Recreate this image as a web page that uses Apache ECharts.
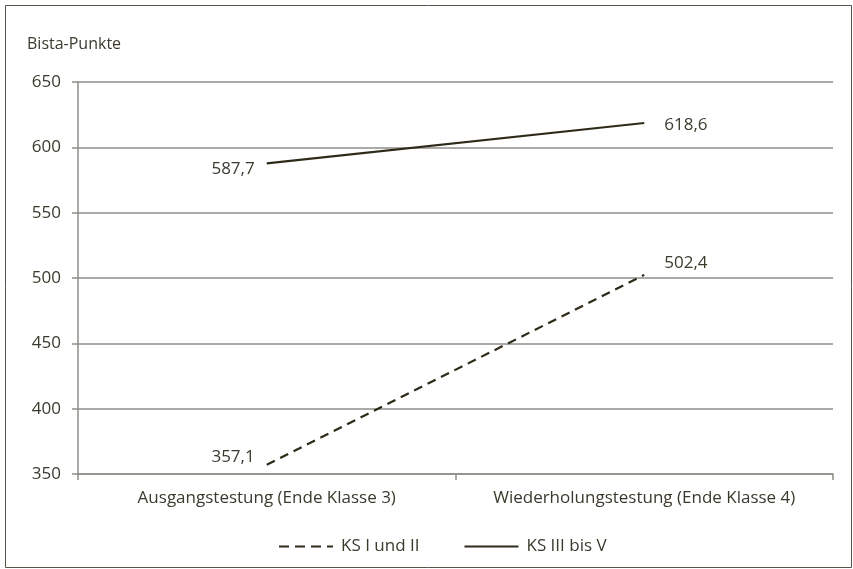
<!DOCTYPE html>
<html>
<head>
<meta charset="utf-8">
<script src="https://cdn.jsdelivr.net/npm/echarts@6/dist/echarts.min.js"></script>
<style>
  html, body { margin: 0; padding: 0; background: #fff; }
  #chart { width: 853px; height: 569px; }
</style>
</head>
<body>
<div id="chart"></div>
<script>
const categories = ['Ausgangstestung (Ende Klasse 3)', 'Wiederholungstestung (Ende Klasse 4)']
const ksLow = [357.1, 502.4]
const ksHigh = [587.7, 618.6]
const seriesNames = ['KS I und II', 'KS III bis V']

const textColor = '#3b3a2c'
const lineColor = '#2e2a1a'
const gridColor = '#8e8e88'
const font = 'Open Sans'

const fmt = v => v.toFixed(1).replace('.', ',')

// Beschriftung links am ersten Punkt, rechts am zweiten
function pointLabels(values, offsets) {
  return values.map((v, i) => ({
    value: v,
    label: {
      show: true,
      position: i === 0 ? 'left' : 'right',
      distance: i === 0 ? 12 : 20,
      offset: offsets[i],
      formatter: () => fmt(v),
      color: textColor,
      fontSize: 17,
      fontFamily: font
    }
  }))
}

const chart = echarts.init(document.getElementById('chart'))
chart.setOption({
  animation: false,
  textStyle: { fontFamily: font, color: textColor },
  graphic: [{
    type: 'rect',
    shape: { x: 5.5, y: 5.5, width: 846, height: 562 },
    style: { fill: 'none', stroke: '#55554a', lineWidth: 1 },
    silent: true
  }],
  grid: { left: 78, right: 20, top: 82, bottom: 95 },
  legend: {
    bottom: 9,
    left: 274,
    itemWidth: 54,
    itemHeight: 2,
    itemGap: 45,
    icon: 'rect',
    textStyle: { color: textColor, fontSize: 17, fontFamily: font, padding: [0, 0, 0, 3] },
    data: [
      { name: seriesNames[0], icon: 'path://M0,0H10V2H0Z M16,0H26V2H16Z M32,0H42V2H32Z M48,0H54V2H48Z' },
      { name: seriesNames[1] }
    ]
  },
  xAxis: {
    type: 'category',
    data: categories,
    boundaryGap: true,
    axisLine: { lineStyle: { color: gridColor, width: 1.5 } },
    axisTick: { show: true, interval: 0, length: 6, lineStyle: { color: gridColor, width: 1.5 } },
    axisLabel: { interval: 0, hideOverlap: false, color: textColor, fontSize: 17, fontFamily: font, margin: 16 }
  },
  yAxis: {
    type: 'value',
    min: 350,
    max: 650,
    interval: 50,
    name: 'Bista-Punkte',
    nameLocation: 'end',
    nameGap: 30,
    nameTextStyle: { color: textColor, fontSize: 16, fontFamily: font, align: 'left', padding: [0, 0, 0, -51] },
    axisLine: { show: true, lineStyle: { color: gridColor, width: 1.5 } },
    axisTick: { show: true, length: 6, lineStyle: { color: gridColor, width: 1.5 } },
    axisLabel: { color: textColor, fontSize: 17, fontFamily: font, margin: 17 },
    splitLine: { show: true, lineStyle: { color: gridColor, width: 1.5 } }
  },
  series: [
    {
      name: seriesNames[0],
      type: 'line',
      data: pointLabels(ksLow, [[0, -8], [0, -12]]),
      symbol: 'circle',
      symbolSize: 0.1,
      lineStyle: { color: lineColor, width: 2.2, type: [9, 6] },
      itemStyle: { color: lineColor }
    },
    {
      name: seriesNames[1],
      type: 'line',
      data: pointLabels(ksHigh, [[0, 6], [0, 2]]),
      symbol: 'circle',
      symbolSize: 0.1,
      lineStyle: { color: lineColor, width: 2.2 },
      itemStyle: { color: lineColor }
    }
  ]
})
</script>
</body>
</html>
